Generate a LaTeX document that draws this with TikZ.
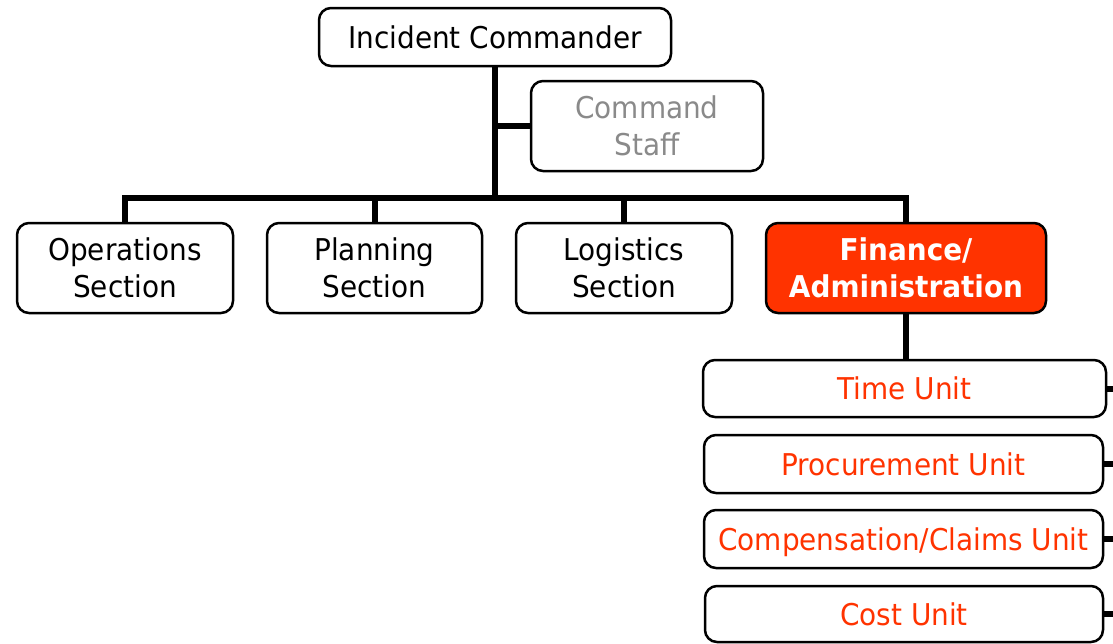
\documentclass[tikz,border=0pt]{standalone}
\usepackage{fontspec}
\setmainfont{DejaVu Sans}[FakeStretch=0.93]
\definecolor{finred}{HTML}{FF3300}
\definecolor{staffgray}{HTML}{8A8A8A}
\tikzset{
  box/.style={draw=black, line width=2.5pt, rounded corners=12pt, fill=white,
    align=center, inner sep=0pt, text depth=0pt, font=\fontsize{30}{37}\selectfont},
  section/.style={box, minimum width=216pt, minimum height=90pt},
  unitbox/.style={box, text=finred, minimum width=399pt, minimum height=58pt},
  link/.style={draw=black, line width=6pt}
}
\begin{document}
\begin{tikzpicture}[x=1pt, y=-1pt]
  \useasboundingbox (0,0) rectangle (1113,643);

  % command level
  \node[box, minimum width=352pt, minimum height=58pt] (ic) at (495,37) {Incident Commander};
  \node[box, text=staffgray, minimum width=232pt, minimum height=90pt] (cs) at (647,126) {Command\\Staff};

  % general staff sections
  \node[section] (ops)  at (125,268)   {Operations\\Section};
  \node[section, minimum width=215pt] (plan) at (374.5,268) {Planning\\Section};
  \node[section] (log)  at (624,268)   {Logistics\\Section};
  \node[section, minimum width=280pt, fill=finred, text=white,
        font=\fontsize{30}{37}\selectfont\bfseries] (fin) at (906,268) {Finance/\\Administration};

  % finance units
  \node[unitbox, minimum width=403pt, minimum height=57pt] (time) at (904.5,388.5) {Time Unit};
  \node[unitbox] (proc) at (903.5,464) {Procurement Unit};
  \node[unitbox] (comp) at (903.5,539) {Compensation/Claims Unit};
  \node[unitbox, minimum width=398pt, minimum height=56pt] (cost) at (904,614) {Cost Unit};

  % level of the section bar and the right margin the unit links run to
  \coordinate (bar) at (0,198);
  \coordinate (edge) at (1130,0);

  % connectors
  \draw[link] (ic.south) -- (ic.south |- bar);
  \draw[link] (cs.west) -- (cs.west -| ic.south);
  \draw[link] (ops.north) -- (ops.north |- bar) -| (fin.north);
  \draw[link] (plan.north) -- (plan.north |- bar);
  \draw[link] (log.north) -- (log.north |- bar);
  \draw[link] (fin.south) -- (fin.south |- time.north);
  \draw[link] (time.east) -- (time.east -| edge);
  \draw[link] (proc.east) -- (proc.east -| edge);
  \draw[link] (comp.east) -- (comp.east -| edge);
  \draw[link] (cost.east) -- (cost.east -| edge);
\end{tikzpicture}
\end{document}
